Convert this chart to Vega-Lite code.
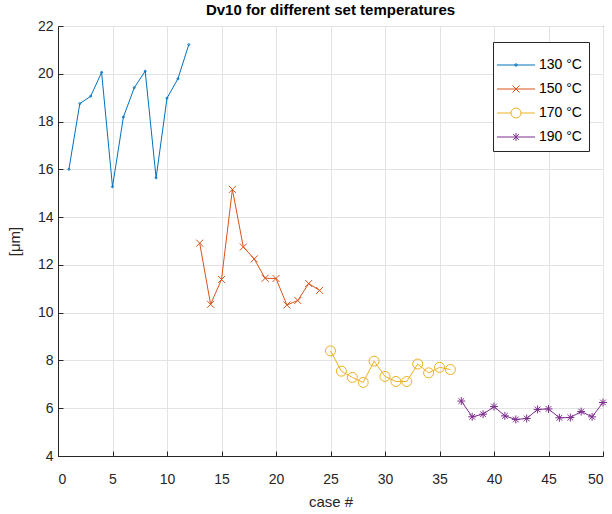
{
  "$schema": "https://vega.github.io/schema/vega-lite/v6.json",
  "width": 545,
  "height": 430,
  "autosize": "none",
  "padding": {"left": 58, "top": 26, "right": 9, "bottom": 58},
  "background": "white",
  "title": {"text": "Dv10 for different set temperatures", "fontSize": 15, "fontWeight": "bold", "font": "Liberation Sans", "color": "#000000", "offset": 1},
  "config": {
    "view": {"stroke": "#262626", "strokeWidth": 1},
    "axis": {"domainColor": "#262626", "tickColor": "#262626", "labelColor": "#262626", "titleColor": "#262626", "gridColor": "#e3e3e3", "labelFont": "Liberation Sans", "titleFont": "Liberation Sans", "labelFontSize": 14, "titleFontSize": 15, "titleFontWeight": "normal", "tickSize": -5}
  },
  "data": {"values": [
    {"x": 1, "y": 16.0, "s": "130 °C"}, {"x": 2, "y": 18.75, "s": "130 °C"}, {"x": 3, "y": 19.06, "s": "130 °C"}, {"x": 4, "y": 20.06, "s": "130 °C"},
    {"x": 5, "y": 15.27, "s": "130 °C"}, {"x": 6, "y": 18.19, "s": "130 °C"}, {"x": 7, "y": 19.42, "s": "130 °C"}, {"x": 8, "y": 20.11, "s": "130 °C"},
    {"x": 9, "y": 15.64, "s": "130 °C"}, {"x": 10, "y": 18.98, "s": "130 °C"}, {"x": 11, "y": 19.79, "s": "130 °C"}, {"x": 12, "y": 21.22, "s": "130 °C"},
    {"x": 13, "y": 12.91, "s": "150 °C"}, {"x": 14, "y": 10.35, "s": "150 °C"}, {"x": 15, "y": 11.39, "s": "150 °C"}, {"x": 16, "y": 15.16, "s": "150 °C"},
    {"x": 17, "y": 12.75, "s": "150 °C"}, {"x": 18, "y": 12.25, "s": "150 °C"}, {"x": 19, "y": 11.44, "s": "150 °C"}, {"x": 20, "y": 11.43, "s": "150 °C"},
    {"x": 21, "y": 10.32, "s": "150 °C"}, {"x": 22, "y": 10.51, "s": "150 °C"}, {"x": 23, "y": 11.22, "s": "150 °C"}, {"x": 24, "y": 10.93, "s": "150 °C"},
    {"x": 25, "y": 8.4, "s": "170 °C"}, {"x": 26, "y": 7.55, "s": "170 °C"}, {"x": 27, "y": 7.29, "s": "170 °C"}, {"x": 28, "y": 7.08, "s": "170 °C"},
    {"x": 29, "y": 7.97, "s": "170 °C"}, {"x": 30, "y": 7.33, "s": "170 °C"}, {"x": 31, "y": 7.12, "s": "170 °C"}, {"x": 32, "y": 7.12, "s": "170 °C"},
    {"x": 33, "y": 7.85, "s": "170 °C"}, {"x": 34, "y": 7.48, "s": "170 °C"}, {"x": 35, "y": 7.71, "s": "170 °C"}, {"x": 36, "y": 7.62, "s": "170 °C"},
    {"x": 37, "y": 6.3, "s": "190 °C"}, {"x": 38, "y": 5.64, "s": "190 °C"}, {"x": 39, "y": 5.75, "s": "190 °C"}, {"x": 40, "y": 6.07, "s": "190 °C"},
    {"x": 41, "y": 5.68, "s": "190 °C"}, {"x": 42, "y": 5.53, "s": "190 °C"}, {"x": 43, "y": 5.57, "s": "190 °C"}, {"x": 44, "y": 5.95, "s": "190 °C"},
    {"x": 45, "y": 5.97, "s": "190 °C"}, {"x": 46, "y": 5.6, "s": "190 °C"}, {"x": 47, "y": 5.61, "s": "190 °C"}, {"x": 48, "y": 5.86, "s": "190 °C"},
    {"x": 49, "y": 5.64, "s": "190 °C"}, {"x": 50, "y": 6.24, "s": "190 °C"}
  ]},
  "encoding": {
    "x": {"field": "x", "type": "quantitative", "scale": {"domain": [0, 50], "nice": false, "zero": false}, "axis": {"values": [0, 5, 10, 15, 20, 25, 30, 35, 40, 45, 50], "title": "case #", "labelPadding": 21, "titlePadding": 8, "grid": true}},
    "y": {"field": "y", "type": "quantitative", "scale": {"domain": [4, 22], "nice": false, "zero": false}, "axis": {"values": [4, 6, 8, 10, 12, 14, 16, 18, 20, 22], "title": "[μm]", "labelPadding": 10, "titlePadding": 15, "grid": true}},
    "color": {"field": "s", "type": "nominal", "title": " ", "scale": {"domain": ["130 °C", "150 °C", "170 °C", "190 °C"], "range": ["#0072BD", "#D95319", "#EDB120", "#7E2F8E"]},
      "legend": {"orient": "none", "legendX": 435, "legendY": 16, "title": " ", "titleFontSize": 7, "titlePadding": 2, "symbolSize": 100, "symbolOpacity": 1, "symbolStrokeWidth": 1, "symbolFillColor": "transparent", "labelFont": "Liberation Sans", "labelFontSize": 14, "labelColor": "#000000", "labelOffset": 25, "rowPadding": 10, "padding": 7, "strokeColor": "#262626", "fillColor": "white"}}
  },
  "layer": [
    {
      "mark": {"type": "line", "strokeWidth": 1}
    },
    {
      "transform": [{"filter": "datum.s === '130 °C'"}],
      "mark": {"type": "point", "filled": false, "strokeWidth": 1, "size": 100, "opacity": 1, "shape": "M0.2,0A0.2,0.2,0,1,1,-0.2,0A0.2,0.2,0,1,1,0.2,0Z"}
    },
    {
      "transform": [{"filter": "datum.s === '150 °C'"}],
      "mark": {"type": "point", "filled": false, "strokeWidth": 1, "size": 100, "opacity": 1, "shape": "M-0.7,-0.7L0.7,0.7M-0.7,0.7L0.7,-0.7"}
    },
    {
      "transform": [{"filter": "datum.s === '170 °C'"}],
      "mark": {"type": "point", "filled": false, "strokeWidth": 1, "size": 100, "opacity": 1, "shape": "circle"}
    },
    {
      "transform": [{"filter": "datum.s === '190 °C'"}],
      "mark": {"type": "point", "filled": false, "strokeWidth": 1, "size": 100, "opacity": 1, "shape": "M-0.8,0H0.8M0,-0.8V0.8M-0.57,-0.57L0.57,0.57M-0.57,0.57L0.57,-0.57"}
    },
    {
      "mark": {"type": "point", "filled": false, "opacity": 0},
      "encoding": {
        "shape": {"field": "s", "type": "nominal", "title": " ", "scale": {"domain": ["130 °C", "150 °C", "170 °C", "190 °C"], "range": [
          "M-2,0H5.6M2.05,0A0.25,0.25,0,1,1,1.55,0A0.25,0.25,0,1,1,2.05,0Z",
          "M-2,0H5.6M1.1,-0.7L2.5,0.7M1.1,0.7L2.5,-0.7",
          "M-2,0H0.8M2.8,0H5.6M2.8,0A1,1,0,1,1,0.8,0A1,1,0,1,1,2.8,0",
          "M-2,0H5.6M1.8,-0.8V0.8M1.23,-0.57L2.37,0.57M1.23,0.57L2.37,-0.57"
        ]},
        "legend": {"orient": "none", "legendX": 435, "legendY": 16, "title": " ", "titleFontSize": 7, "titlePadding": 2, "symbolSize": 100, "symbolOpacity": 1, "symbolStrokeWidth": 1, "symbolFillColor": "transparent", "labelFont": "Liberation Sans", "labelFontSize": 14, "labelColor": "#000000", "labelOffset": 25, "rowPadding": 10, "padding": 7, "strokeColor": "#262626", "fillColor": "white"}}
      }
    }
  ]
}
